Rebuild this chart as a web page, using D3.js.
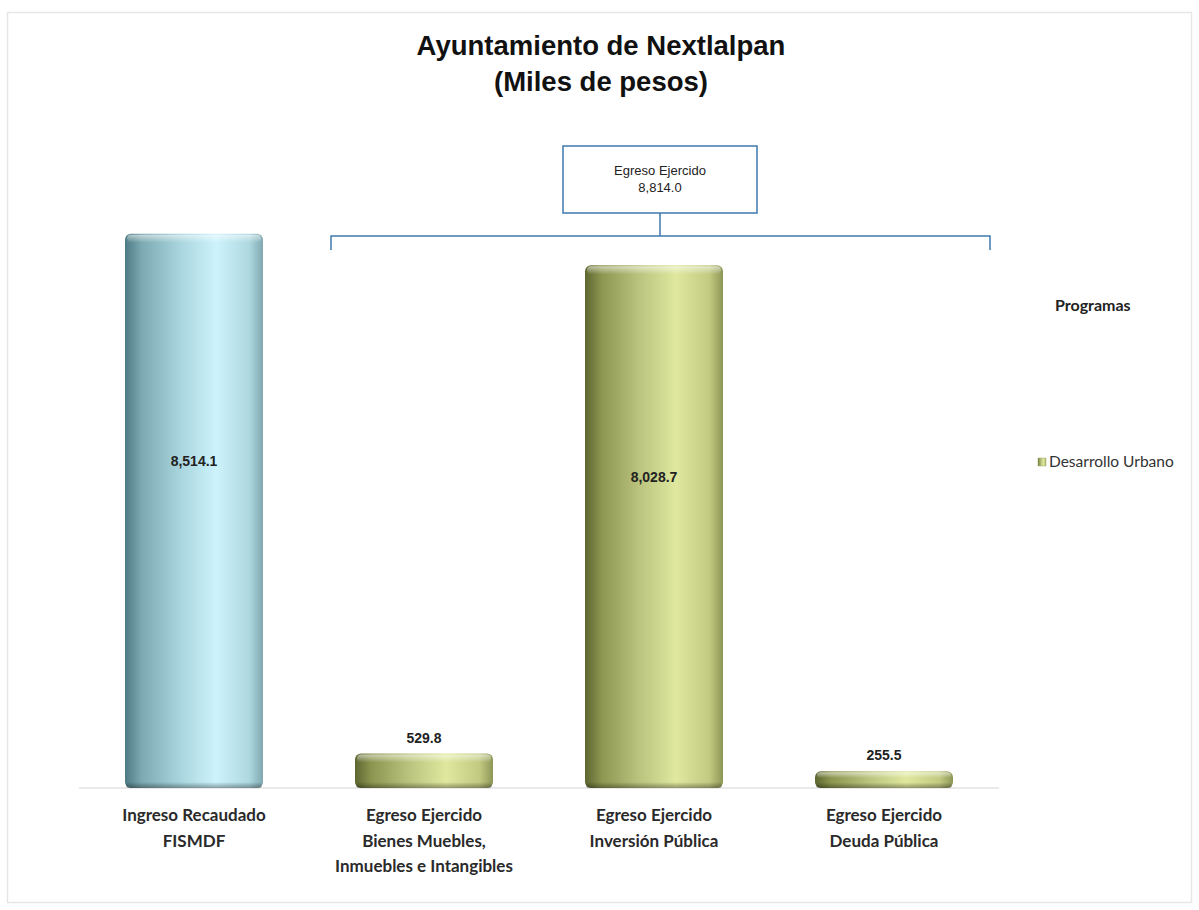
<!DOCTYPE html>
<html><head><meta charset="utf-8">
<script src="https://cdn.jsdelivr.net/npm/d3@7"></script>
<style>body{margin:0;background:#fff;} svg{display:block;}</style>
</head><body>
<svg id="chart" width="1199" height="910"></svg>
<script>
const categories = [
  ["Ingreso Recaudado", "FISMDF"],
  ["Egreso Ejercido", "Bienes Muebles,", "Inmuebles e Intangibles"],
  ["Egreso Ejercido", "Inversión Pública"],
  ["Egreso Ejercido", "Deuda Pública"]
];
const values = [8514.1, 529.8, 8028.7, 255.5];
const valueLabels = ["8,514.1", "529.8", "8,028.7", "255.5"];
const barKinds = ["ingreso", "egreso", "egreso", "egreso"];
const titleLines = ["Ayuntamiento de Nextlalpan", "(Miles de pesos)"];
const bracketLabel = ["Egreso Ejercido", "8,814.0"];
const legendTitle = "Programas";
const legendItems = ["Desarrollo Urbano"];

const svg = d3.select("#chart");
const W = 1199, H = 910;

// outer frame
svg.append("rect").attr("x", 7.5).attr("y", 12.5).attr("width", W - 15).attr("height", H - 20)
  .attr("fill", "#fff").attr("stroke", "#e6e6e6").attr("stroke-width", 1.5);

const defs = svg.append("defs");
function grad(id, stops) {
  const g = defs.append("linearGradient").attr("id", id).attr("x1", "0").attr("x2", "1").attr("y1", "0").attr("y2", "0");
  stops.forEach(s => g.append("stop").attr("offset", s[0]).attr("stop-color", s[1]));
}
grad("g-ingreso", [[0, "#4d7a84"], [0.12, "#7ca9b2"], [0.4, "#a9d5de"], [0.66, "#cdf3fb"], [0.9, "#aed8e0"], [1, "#7fa8b0"]]);
grad("g-egreso", [[0, "#5d6630"], [0.12, "#8d9650"], [0.4, "#bcc57f"], [0.66, "#dfe89e"], [0.9, "#c2ca82"], [1, "#8e9656"]]);
const vg = defs.append("linearGradient").attr("id", "g-top").attr("x1", 0).attr("x2", 0).attr("y1", 0).attr("y2", 1);
vg.append("stop").attr("offset", 0).attr("stop-color", "#fff").attr("stop-opacity", 0.55);
vg.append("stop").attr("offset", 1).attr("stop-color", "#fff").attr("stop-opacity", 0);
const vb = defs.append("linearGradient").attr("id", "g-bot").attr("x1", 0).attr("x2", 0).attr("y1", 0).attr("y2", 1);
vb.append("stop").attr("offset", 0).attr("stop-color", "#000").attr("stop-opacity", 0);
vb.append("stop").attr("offset", 1).attr("stop-color", "#000").attr("stop-opacity", 0.35);

const x = d3.scaleBand().domain(d3.range(categories.length)).range([79, 999]).paddingInner(0.4).paddingOuter(0.2);
const y = d3.scaleLinear().domain([0, 10000]).range([788, 137]);

// baseline
svg.append("line").attr("x1", 79).attr("x2", 999).attr("y1", y(0)).attr("y2", y(0))
  .attr("stroke", "#d6d6d6").attr("stroke-width", 1.2);

// bars
const bars = svg.append("g").selectAll("g").data(values).join("g");
bars.append("rect")
  .attr("x", (d, i) => x(i)).attr("width", x.bandwidth())
  .attr("y", d => y(d)).attr("height", d => y(0) - y(d))
  .attr("rx", 6).attr("ry", 6)
  .attr("fill", (d, i) => `url(#g-${barKinds[i]})`);
bars.append("rect")
  .attr("x", (d, i) => x(i) + 2).attr("width", x.bandwidth() - 4)
  .attr("y", d => y(d) + 1).attr("height", d => Math.min(8, (y(0) - y(d)) / 3))
  .attr("rx", 4).attr("fill", "url(#g-top)");
bars.append("rect")
  .attr("x", (d, i) => x(i) + 1).attr("width", x.bandwidth() - 2)
  .attr("y", d => y(0) - Math.min(6, (y(0) - y(d)) / 3)).attr("height", d => Math.min(6, (y(0) - y(d)) / 3))
  .attr("rx", 3).attr("fill", "url(#g-bot)");

// value labels
const vfont = "'Liberation Sans Narrow','Arial Narrow','Liberation Sans',Arial,sans-serif";
bars.append("text")
  .attr("x", (d, i) => x(i) + x.bandwidth() / 2)
  .attr("y", d => (y(0) - y(d)) > 100 ? (y(d) + y(0)) / 2 - 45 : y(d) - 11)
  .attr("text-anchor", "middle")
  .attr("font-family", vfont).attr("font-weight", "bold").attr("font-size", 14).attr("fill", "#222")
  .text((d, i) => valueLabels[i]);

// category labels
const cfont = "Lato,'Open Sans','Noto Sans',sans-serif";
categories.forEach((lines, i) => {
  const t = svg.append("text").attr("text-anchor", "middle")
    .attr("font-family", cfont).attr("font-weight", "bold").attr("font-size", 17).attr("fill", "#2a2a2a");
  lines.forEach((l, j) => t.append("tspan").attr("x", x(i) + x.bandwidth() / 2).attr("y", 821 + j * 25.5).text(l));
});

// title
const title = svg.append("text").attr("text-anchor", "middle")
  .attr("font-family", "'Liberation Sans',Arial,sans-serif").attr("font-weight", "bold").attr("font-size", 27.5).attr("fill", "#111");
titleLines.forEach((l, j) => title.append("tspan").attr("x", 601).attr("y", 55 + j * 36).text(l));

// bracket
const bx1 = 331, bx2 = 990, by = 236;
const bc = "#3e79ad";
svg.append("path")
  .attr("d", `M${bx1},${by + 14}V${by}H${bx2}V${by + 14}`)
  .attr("fill", "none").attr("stroke", bc).attr("stroke-width", 1.5);
svg.append("line").attr("x1", 660).attr("x2", 660).attr("y1", 213).attr("y2", by).attr("stroke", bc).attr("stroke-width", 1.5);
svg.append("rect").attr("x", 563).attr("y", 146).attr("width", 194).attr("height", 67)
  .attr("fill", "#fff").attr("stroke", bc).attr("stroke-width", 1.5);
const bt = svg.append("text").attr("text-anchor", "middle")
  .attr("font-family", vfont).attr("font-size", 13).attr("fill", "#222");
bracketLabel.forEach((l, j) => bt.append("tspan").attr("x", 660).attr("y", 175 + j * 17).text(l));

// legend
svg.append("text").attr("x", 1055).attr("y", 311)
  .attr("font-family", cfont).attr("font-weight", "bold").attr("font-size", 16).attr("fill", "#222")
  .text(legendTitle);
legendItems.forEach((l, j) => {
  svg.append("rect").attr("x", 1038).attr("y", 458 + j * 20).attr("width", 8).attr("height", 8)
    .attr("fill", "url(#g-egreso)").attr("stroke", "#a8b06a").attr("stroke-width", 0.5);
  svg.append("text").attr("x", 1049).attr("y", 467 + j * 20)
    .attr("font-family", cfont).attr("font-size", 15.5).attr("fill", "#333").text(l);
});
</script>
</body></html>
